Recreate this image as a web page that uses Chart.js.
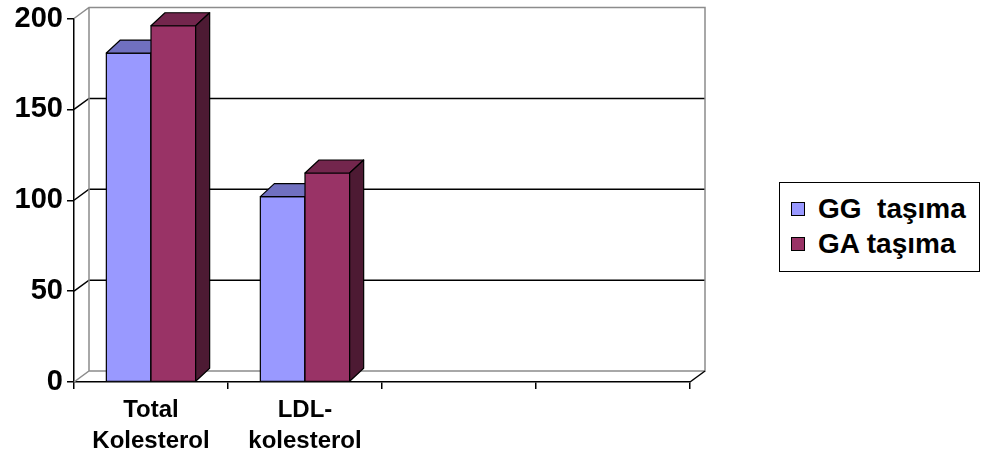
<!DOCTYPE html>
<html lang="tr">
<head>
    <meta charset="UTF-8">
    <title>Kolesterol</title>
    <script src="https://cdn.jsdelivr.net/npm/chart.js"></script>
    <style>
        * { margin: 0; padding: 0; box-sizing: border-box; }
        body { background: #fff; width: 982px; height: 460px; position: relative; overflow: hidden;
               font-family: 'Liberation Sans', Arial, sans-serif; }
        #chart { position: absolute; left: 0; top: 0; }
        .legend {
            position: absolute; left: 779px; top: 182px; width: 201px; height: 90px;
            border: 1.5px solid #000; background: #fff; padding-top: 8px;
        }
        .legend-item { display: flex; align-items: center; height: 35px; padding-left: 11px;
                       font-weight: bold; font-size: 28px; color: #000; white-space: pre; }
        .legend-box { width: 14px; height: 14px; border: 1px solid #000; margin-right: 13px; }
    </style>
</head>
<body>
    <canvas id="chart" width="982" height="460"></canvas>
    <div class="legend" id="legend"></div>

    <script>
        // veriler
        const categories = [['Total', 'Kolesterol'], ['LDL-', 'kolesterol'], '', ''];
        const seriesNames = ['GG  taşıma', 'GA taşıma'];
        const ggValues = [181, 102, null, null];
        const gaValues = [196, 115, null, null];
        const yTicks = [0, 50, 100, 150, 200];

        const frontColors = ['#9999ff', '#993366'];
        const topColors = ['#7070c0', '#73264d'];
        const sideColors = ['#4d4d80', '#4d1a33'];

        // legend
        const legend = document.getElementById('legend');
        seriesNames.forEach((name, i) => {
            const row = document.createElement('div');
            row.className = 'legend-item';
            row.innerHTML = '<span class="legend-box" style="background:' + frontColors[i] + '"></span>' + name;
            legend.appendChild(row);
        });

        const WALL_DX = 15, WALL_DY = 11;
        const BAR_DX = 14, BAR_DY = 13;

        // arka duvar, zemin ve kılavuz çizgileri
        const wallPlugin = {
            id: 'wall',
            beforeDatasetsDraw(chart) {
                const ctx = chart.ctx;
                const y = chart.scales.y;
                const { left, right } = chart.chartArea;
                const top = y.getPixelForValue(200), bottom = y.getPixelForValue(0);
                ctx.save();
                ctx.lineWidth = 1.5;
                // kılavuz çizgileri
                ctx.strokeStyle = '#000';
                yTicks.forEach(v => {
                    if (v === 0 || v === 200) return;
                    const py = y.getPixelForValue(v);
                    ctx.beginPath();
                    ctx.moveTo(left, py);
                    ctx.lineTo(left + WALL_DX, py - WALL_DY);
                    ctx.lineTo(right + WALL_DX, py - WALL_DY);
                    ctx.stroke();
                });
                // duvar kenarları
                ctx.strokeStyle = '#8c8c8c';
                ctx.beginPath();
                ctx.moveTo(left, top);
                ctx.lineTo(left + WALL_DX, top - WALL_DY);
                ctx.lineTo(right + WALL_DX, top - WALL_DY);
                ctx.lineTo(right + WALL_DX, bottom - WALL_DY);
                ctx.lineTo(left + WALL_DX, bottom - WALL_DY);
                ctx.lineTo(left, bottom);
                ctx.moveTo(left + WALL_DX, top - WALL_DY);
                ctx.lineTo(left + WALL_DX, bottom - WALL_DY);
                ctx.stroke();
                ctx.strokeStyle = '#000';
                ctx.beginPath();
                ctx.moveTo(right, bottom);
                ctx.lineTo(right + WALL_DX, bottom - WALL_DY);
                ctx.stroke();
                ctx.restore();
            }
        };

        // 3B sütunlar
        const bar3dPlugin = {
            id: 'bar3d',
            afterDatasetsDraw(chart) {
                const ctx = chart.ctx;
                ctx.save();
                ctx.lineWidth = 1.2;
                ctx.strokeStyle = '#000';
                ctx.lineJoin = 'round';
                for (let i = 0; i < categories.length; i++) {
                    chart.data.datasets.forEach((ds, d) => {
                        if (ds.data[i] == null) return;
                        const bar = chart.getDatasetMeta(d).data[i];
                        const x1 = bar.x - bar.width / 2, x2 = bar.x + bar.width / 2;
                        const t = bar.y, b = bar.base;
                        // ön yüz
                        ctx.fillStyle = frontColors[d];
                        ctx.fillRect(x1, t, x2 - x1, b - t);
                        ctx.strokeRect(x1, t, x2 - x1, b - t);
                        // üst yüz
                        ctx.fillStyle = topColors[d];
                        ctx.beginPath();
                        ctx.moveTo(x1, t);
                        ctx.lineTo(x1 + BAR_DX, t - BAR_DY);
                        ctx.lineTo(x2 + BAR_DX, t - BAR_DY);
                        ctx.lineTo(x2, t);
                        ctx.closePath();
                        ctx.fill();
                        ctx.stroke();
                        // yan yüz
                        ctx.fillStyle = sideColors[d];
                        ctx.beginPath();
                        ctx.moveTo(x2, t);
                        ctx.lineTo(x2 + BAR_DX, t - BAR_DY);
                        ctx.lineTo(x2 + BAR_DX, b - BAR_DY);
                        ctx.lineTo(x2, b);
                        ctx.closePath();
                        ctx.fill();
                        ctx.stroke();
                    });
                }
                ctx.restore();
            }
        };

        const font = "'Liberation Sans', Arial, sans-serif";

        new Chart(document.getElementById('chart'), {
            type: 'bar',
            data: {
                labels: categories,
                datasets: [
                    { label: seriesNames[0], data: ggValues, backgroundColor: frontColors[0], borderColor: '#000', borderWidth: 1 },
                    { label: seriesNames[1], data: gaValues, backgroundColor: frontColors[1], borderColor: '#000', borderWidth: 1 }
                ]
            },
            options: {
                responsive: false,
                animation: false,
                categoryPercentage: 0.58,
                barPercentage: 1,
                layout: { padding: { top: 15, right: 292, left: 0, bottom: 0 } },
                plugins: {
                    legend: { display: false },
                    tooltip: { enabled: false }
                },
                scales: {
                    x: {
                        grid: { display: true, offset: true, drawOnChartArea: false, color: '#000', lineWidth: 1.5, tickLength: 7 },
                        border: { display: true, color: '#000', width: 1.5 },
                        ticks: {
                            color: '#000', maxRotation: 0, autoSkip: false, padding: 6,
                            font: { family: font, size: 24, weight: 'bold', lineHeight: 1.3 }
                        },
                        afterFit(scale) { scale.height = 78; }
                    },
                    y: {
                        min: 0, max: 200,
                        afterBuildTicks(scale) { scale.ticks = yTicks.map(v => ({ value: v })); },
                        grid: { display: true, drawOnChartArea: false, color: '#000', lineWidth: 1.5, tickLength: 7 },
                        border: { display: true, color: '#000', width: 1.5 },
                        ticks: {
                            color: '#000', padding: 4,
                            font: { family: font, size: 29, weight: 'bold', lineHeight: 1 }
                        },
                        afterFit(scale) { scale.width = 74; }
                    }
                }
            },
            plugins: [wallPlugin, bar3dPlugin]
        });
    </script>
</body>
</html>
